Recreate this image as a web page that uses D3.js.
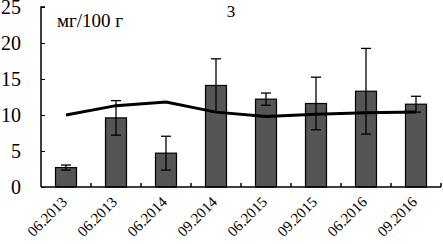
<!DOCTYPE html>
<html>
<head>
<meta charset="utf-8">
<script src="https://cdn.jsdelivr.net/npm/d3@7"></script>
<style>
  body { margin: 0; background: #fff; }
</style>
</head>
<body>
<div id="chart"></div>
<script>
const categories = ['06.2013', '06.2013', '06.2014', '09.2014', '06.2015', '09.2015', '06.2016', '09.2016'];
const barValues = [2.7, 9.6, 4.7, 14.1, 12.2, 11.6, 13.3, 11.5];
const errValues = [0.35, 2.4, 2.35, 3.7, 0.85, 3.65, 5.95, 1.1];
const lineValues = [10.0, 11.3, 11.8, 10.4, 9.8, 10.1, 10.3, 10.4];
const yTicks = [0, 5, 10, 15, 20, 25];

const chartWidth = 443;
const chartHeight = 244;
const plotLeft = 41;
const plotRight = 441;
const plotTop = 7;
const plotBottom = 187;

const svg = d3.select('#chart')
    .append('svg')
    .attr('width', chartWidth)
    .attr('height', chartHeight)
    .attr('font-family', "'Liberation Serif', 'Times New Roman', 'DejaVu Serif', serif");

const xScale = d3.scaleBand()
    .domain(d3.range(categories.length))
    .range([plotLeft, plotRight])
    .paddingInner(0.58)
    .paddingOuter(0.29);

const yScale = d3.scaleLinear()
    .domain([0, 25])
    .range([plotBottom, plotTop]);

// bars
svg.append('g')
    .selectAll('rect')
    .data(barValues)
    .enter()
    .append('rect')
    .attr('x', (d, i) => xScale(i))
    .attr('y', d => yScale(d))
    .attr('width', xScale.bandwidth())
    .attr('height', d => plotBottom - yScale(d))
    .attr('fill', '#555')
    .attr('stroke', '#000')
    .attr('stroke-width', 1.2);

// error bars
const err = svg.append('g')
    .attr('stroke', '#000')
    .attr('stroke-width', 1.3);
barValues.forEach((v, i) => {
    const cx = xScale(i) + xScale.bandwidth() / 2;
    const y1 = yScale(v + errValues[i]);
    const y2 = yScale(v - errValues[i]);
    err.append('line').attr('x1', cx).attr('x2', cx).attr('y1', y1).attr('y2', y2);
    err.append('line').attr('x1', cx - 5).attr('x2', cx + 5).attr('y1', y1).attr('y2', y1);
    err.append('line').attr('x1', cx - 5).attr('x2', cx + 5).attr('y1', y2).attr('y2', y2);
});

// line
const line = d3.line()
    .x((d, i) => xScale(i) + xScale.bandwidth() / 2)
    .y(d => yScale(d));

svg.append('path')
    .datum(lineValues)
    .attr('d', line)
    .attr('fill', 'none')
    .attr('stroke', '#000')
    .attr('stroke-width', 3);

// y axis
const yAxis = d3.axisRight(yScale)
    .tickValues(yTicks)
    .tickSize(4)
    .tickFormat('');

svg.append('g')
    .attr('class', 'y-axis')
    .attr('transform', 'translate(' + plotLeft + ',0)')
    .call(yAxis)
    .call(g => g.select('.domain').attr('stroke-width', 1.5).attr('d', 'M4,' + plotTop + 'H0V' + plotBottom));

svg.append('g')
    .selectAll('text')
    .data(yTicks)
    .enter()
    .append('text')
    .attr('x', 21)
    .attr('y', d => yScale(d))
    .attr('dy', '0.35em')
    .attr('text-anchor', 'end')
    .attr('font-size', 20)
    .text(d => d);

// x axis with boundary ticks
svg.append('line')
    .attr('x1', plotLeft).attr('x2', plotRight)
    .attr('y1', plotBottom).attr('y2', plotBottom)
    .attr('stroke', '#000')
    .attr('stroke-width', 1.5);

const step = xScale.step();
svg.append('g')
    .selectAll('line')
    .data(d3.range(1, categories.length + 1))
    .enter()
    .append('line')
    .attr('x1', i => plotLeft + i * step)
    .attr('x2', i => plotLeft + i * step)
    .attr('y1', plotBottom)
    .attr('y2', plotBottom - 4)
    .attr('stroke', '#000')
    .attr('stroke-width', 1.5);

svg.append('g')
    .selectAll('text')
    .data(categories)
    .enter()
    .append('text')
    .attr('transform', (d, i) => 'translate(' + (xScale(i) + xScale.bandwidth() / 2 + 2) + ',203) rotate(-45)')
    .attr('text-anchor', 'end')
    .attr('font-size', 15)
    .text(d => d);

// labels
svg.append('text')
    .attr('x', 57)
    .attr('y', 27)
    .attr('font-size', 19)
    .text('мг/100 г');

svg.append('text')
    .attr('x', 231)
    .attr('y', 17)
    .attr('text-anchor', 'middle')
    .attr('font-size', 17)
    .text('3');
</script>
</body>
</html>
